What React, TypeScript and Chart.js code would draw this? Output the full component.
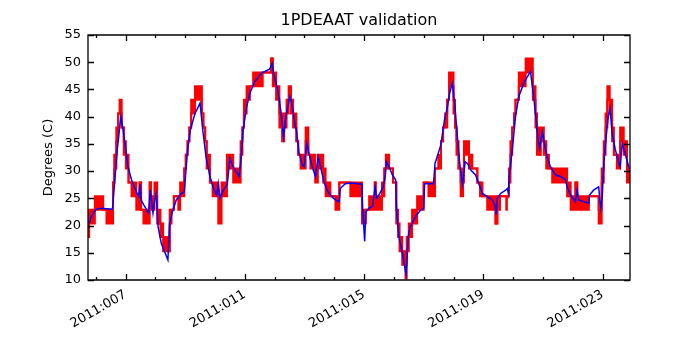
import React, { useEffect, useRef } from 'react';
import { Chart, registerables } from 'chart.js';

Chart.register(...registerables);

const chartTitle = '1PDEAAT validation';
const yAxisLabel = 'Degrees (C)';
const xMin = 5.74;
const xMax = 23.92;
const yMin = 10;
const yMax = 55;
const yTicks = [10, 15, 20, 25, 30, 35, 40, 45, 50, 55];
const majorDays = [7, 11, 15, 19, 23];
const majorLabels = ['2011:007', '2011:011', '2011:015', '2011:019', '2011:023'];
const minorDays = [6, 7, 8, 9, 10, 11, 12, 13, 14, 15, 16, 17, 18, 19, 20, 21, 22, 23];

// Telemetry (red): quantized, shown as low/high envelope of flickering values
const redDays = [
  5.74, 5.78, 5.97, 6.25, 6.36, 6.58, 6.62, 6.69, 6.75, 6.80, 6.87, 6.94, 7.01, 7.10, 7.20, 7.36, 7.47, 7.52, 7.60, 7.81,
  7.85, 7.97, 8.06, 8.17, 8.26, 8.42, 8.48, 8.54, 8.62, 8.77, 8.83, 8.97, 9.02, 9.08, 9.14, 9.20, 9.33, 9.56, 9.61, 9.67,
  9.72, 9.83, 9.92, 10.11, 10.22, 10.40, 10.61, 10.86, 10.92, 10.97, 11.06, 11.17, 11.28, 11.60, 11.88, 11.94, 12.05, 12.16, 12.25, 12.32,
  12.40, 12.47, 12.55, 12.62, 12.73, 12.79, 12.87, 13.04, 13.13, 13.20, 13.36, 13.45, 13.63, 13.71, 13.87, 14.04, 14.17, 14.54, 14.93, 15.06,
  15.17, 15.36, 15.39, 15.60, 15.68, 15.73, 15.84, 15.97, 16.08, 16.14, 16.19, 16.28, 16.39, 16.43, 16.50, 16.61, 16.78, 17.00, 17.16, 17.38,
  17.49, 17.58, 17.65, 17.72, 17.79, 17.85, 18.00, 18.05, 18.10, 18.17, 18.24, 18.32, 18.35, 18.52, 18.63, 18.80, 18.89, 18.97, 19.13, 19.41,
  19.47, 19.54, 19.56, 19.77, 19.79, 19.86, 19.91, 19.97, 20.03, 20.08, 20.19, 20.42, 20.66, 20.75, 20.80, 20.89, 20.92, 21.03, 21.11, 21.20,
  21.31, 21.81, 21.93, 22.09, 22.15, 22.54, 22.87, 22.97, 23.04, 23.10, 23.16, 23.24, 23.32, 23.38, 23.48, 23.59, 23.71, 23.82, 23.95,
];
const redLow = [
  17.9, 20.4, 22.9, 22.9, 20.4, 27.9, 30.5, 35.5, 40.6, 40.6, 38.0, 33.0, 30.5, 27.9, 25.4, 22.9, 27.9, 22.9, 20.4, 27.9,
  22.9, 25.4, 20.4, 17.9, 15.3, 15.3, 20.4, 22.9, 25.4, 22.9, 25.4, 30.5, 33.0, 35.5, 38.0, 40.6, 43.1, 40.6, 38.0, 35.5,
  30.5, 27.9, 25.4, 20.4, 25.4, 30.5, 27.9, 33.0, 38.0, 40.6, 43.1, 45.6, 45.6, 48.1, 50.7, 45.6, 43.1, 38.0, 35.5, 38.0,
  40.6, 43.1, 40.6, 38.0, 35.5, 33.0, 30.5, 35.5, 33.0, 30.5, 27.9, 30.5, 27.9, 25.4, 25.4, 22.9, 27.9, 25.4, 20.4, 22.9,
  22.9, 27.9, 22.9, 25.4, 30.5, 30.5, 30.5, 27.9, 20.4, 17.9, 15.3, 12.8, 10.3, 15.3, 17.9, 20.4, 22.9, 27.9, 25.4, 30.5,
  30.5, 35.5, 38.0, 38.0, 43.1, 45.6, 40.6, 38.0, 33.0, 30.5, 25.4, 27.9, 33.0, 30.5, 30.5, 27.9, 25.4, 25.4, 22.9, 20.4,
  25.4, 22.9, 25.4, 22.9, 25.4, 27.9, 33.0, 38.0, 40.6, 43.1, 45.6, 48.1, 43.1, 38.0, 33.0, 33.0, 35.5, 33.0, 30.5, 30.5,
  27.9, 25.4, 22.9, 27.9, 22.9, 25.4, 20.4, 27.9, 33.0, 38.0, 43.1, 40.6, 35.5, 33.0, 30.5, 35.5, 33.0, 27.9, 27.9,
];
const redHigh = [
  22.9, 22.9, 25.4, 22.9, 22.9, 27.9, 33.0, 38.0, 40.6, 43.1, 38.0, 35.5, 33.0, 27.9, 27.9, 25.4, 27.9, 22.9, 22.9, 27.9,
  25.4, 27.9, 22.9, 20.4, 17.9, 15.3, 22.9, 22.9, 25.4, 25.4, 27.9, 30.5, 33.0, 35.5, 38.0, 43.1, 45.6, 40.6, 38.0, 35.5,
  33.0, 27.9, 27.9, 25.4, 27.9, 33.0, 30.5, 35.5, 38.0, 43.1, 45.6, 45.6, 48.1, 48.1, 50.7, 48.1, 45.6, 40.6, 38.0, 40.6,
  43.1, 45.6, 43.1, 40.6, 35.5, 33.0, 33.0, 38.0, 33.0, 33.0, 30.5, 33.0, 30.5, 27.9, 25.4, 25.4, 27.9, 27.9, 22.9, 22.9,
  25.4, 27.9, 25.4, 27.9, 30.5, 33.0, 30.5, 27.9, 22.9, 20.4, 17.9, 15.3, 12.8, 17.9, 20.4, 22.9, 25.4, 27.9, 27.9, 30.5,
  33.0, 35.5, 38.0, 40.6, 43.1, 48.1, 43.1, 38.0, 35.5, 30.5, 27.9, 30.5, 35.5, 33.0, 30.5, 27.9, 27.9, 25.4, 25.4, 20.4,
  25.4, 25.4, 25.4, 25.4, 25.4, 30.5, 35.5, 38.0, 40.6, 43.1, 48.1, 50.7, 45.6, 40.6, 38.0, 33.0, 38.0, 35.5, 33.0, 30.5,
  30.5, 27.9, 25.4, 27.9, 25.4, 25.4, 22.9, 30.5, 35.5, 40.6, 45.6, 43.1, 38.0, 33.0, 33.0, 38.0, 35.5, 30.5, 30.5,
];

// Model (blue)
const blueDays = [
  5.78, 5.85, 5.91, 6.02, 6.19, 6.56, 6.64, 6.72, 6.84, 6.92, 7.01, 7.08, 7.20, 7.36, 7.44, 7.49, 7.52, 7.64, 7.77, 7.83,
  7.92, 7.98, 8.03, 8.09, 8.20, 8.31, 8.42, 8.48, 8.57, 8.70, 8.87, 8.97, 9.00, 9.08, 9.17, 9.33, 9.50, 9.59, 9.70, 9.83,
  9.97, 10.06, 10.11, 10.17, 10.28, 10.41, 10.50, 10.56, 10.70, 10.81, 10.89, 10.94, 11.06, 11.17, 11.33, 11.56, 11.83, 11.92, 11.96, 12.10,
  12.22, 12.30, 12.38, 12.51, 12.58, 12.69, 12.73, 12.82, 12.93, 12.99, 13.08, 13.15, 13.26, 13.37, 13.46, 13.54, 13.65, 13.76, 13.87, 13.98,
  14.13, 14.17, 14.20, 14.37, 14.59, 14.93, 14.95, 15.02, 15.06, 15.17, 15.28, 15.37, 15.42, 15.53, 15.64, 15.71, 15.75, 15.84, 15.95, 16.06,
  16.09, 16.17, 16.28, 16.41, 16.48, 16.55, 16.72, 16.89, 17.00, 17.03, 17.33, 17.38, 17.49, 17.58, 17.62, 17.70, 17.79, 17.87, 17.96, 18.05,
  18.13, 18.21, 18.30, 18.39, 18.47, 18.58, 18.74, 18.85, 18.97, 19.13, 19.30, 19.39, 19.43, 19.47, 19.58, 19.75, 19.81, 19.84, 19.87, 19.97,
  20.08, 20.19, 20.36, 20.58, 20.69, 20.75, 20.84, 20.89, 20.98, 21.06, 21.14, 21.25, 21.42, 21.59, 21.76, 21.81, 21.93, 22.09, 22.15, 22.20,
  22.37, 22.54, 22.56, 22.70, 22.87, 22.91, 22.94, 22.99, 23.04, 23.12, 23.19, 23.25, 23.32, 23.43, 23.54, 23.59, 23.66, 23.77, 23.88, 23.93,
];
const blueTemps = [
  20.4, 21.6, 22.2, 23.0, 23.2, 23.0, 28.4, 33.9, 40.0, 37.5, 33.9, 30.8, 28.4, 26.2, 25.3, 27.6, 24.7, 23.5, 22.3, 26.5,
  22.3, 24.7, 25.9, 19.8, 16.7, 15.2, 13.7, 20.4, 22.5, 24.7, 25.9, 26.2, 28.4, 33.9, 37.5, 40.6, 42.5, 37.5, 32.6, 29.0,
  26.5, 25.6, 27.7, 25.1, 26.5, 27.5, 32.3, 31.4, 29.9, 29.0, 33.3, 37.5, 41.8, 44.3, 46.4, 48.0, 48.7, 49.8, 48.0, 45.0,
  40.6, 36.3, 40.0, 43.7, 42.5, 38.2, 37.5, 33.3, 31.1, 30.8, 35.1, 33.3, 30.8, 29.0, 32.6, 30.8, 28.1, 26.5, 25.6, 25.0,
  24.4, 24.4, 26.8, 27.7, 27.8, 27.6, 23.5, 17.1, 22.5, 23.2, 23.5, 27.1, 25.0, 25.9, 27.1, 29.0, 31.7, 30.8, 29.3, 28.4,
  22.8, 18.0, 15.0, 11.0, 18.0, 19.8, 21.6, 22.8, 23.2, 27.7, 27.7, 31.4, 33.3, 34.9, 36.5, 39.5, 41.6, 44.3, 46.2, 41.8,
  36.3, 31.4, 27.5, 31.7, 31.4, 30.2, 29.3, 27.7, 25.9, 25.3, 24.7, 23.8, 22.0, 25.0, 25.9, 26.5, 26.8, 25.9, 29.0, 33.9,
  40.0, 43.7, 46.2, 48.3, 43.7, 40.5, 35.7, 34.2, 37.2, 34.8, 32.6, 30.8, 29.3, 29.0, 28.4, 27.1, 25.6, 24.4, 26.5, 24.7,
  24.4, 24.1, 25.6, 26.5, 27.1, 24.7, 23.2, 25.3, 31.4, 36.3, 40.0, 41.5, 36.9, 33.9, 31.7, 30.8, 35.1, 32.9, 30.8, 30.2,
];

const FONT = "'DejaVu Sans', sans-serif";

const framePlugin = {
  id: 'mplFrame',
  afterDatasetsDraw(chart: any) {
    const { ctx, chartArea: a, scales } = chart;
    const xs = scales.x;
    const ys = scales.y;
    const L = Math.round(a.left);
    const R = Math.round(a.right);
    const T = Math.round(a.top);
    const B = Math.round(a.bottom);
    ctx.save();
    ctx.strokeStyle = '#000';
    ctx.lineWidth = 1.3;
    ctx.beginPath();
    ctx.rect(L, T, R - L, B - T);
    yTicks.forEach((v) => {
      const p = Math.round(ys.getPixelForValue(v)) + 0.5;
      ctx.moveTo(L, p);
      ctx.lineTo(L + 6, p);
      ctx.moveTo(R, p);
      ctx.lineTo(R - 6, p);
    });
    minorDays.forEach((d) => {
      const len = majorDays.includes(d) ? 6 : 3;
      const p = Math.round(xs.getPixelForValue(d)) + 0.5;
      ctx.moveTo(p, B);
      ctx.lineTo(p, B - len);
      ctx.moveTo(p, T);
      ctx.lineTo(p, T + len);
    });
    ctx.stroke();
    ctx.restore();
  },
};

export default function App() {
  const ref = useRef<HTMLCanvasElement | null>(null);

  useEffect(() => {
    if (!ref.current) return;
    const chart = new Chart(ref.current, {
      type: 'line',
      data: {
        datasets: [
          {
            label: 'model',
            data: blueDays.map((x, i) => ({ x, y: blueTemps[i] })),
            borderColor: '#0000ff',
            borderWidth: 1.5,
            pointRadius: 0,
            fill: false,
            tension: 0,
          },
          {
            label: 'telemetry low',
            data: redDays.map((x, i) => ({ x, y: redLow[i] })),
            borderColor: '#ff0000',
            borderWidth: 2,
            pointRadius: 0,
            stepped: true,
            fill: false,
          },
          {
            label: 'telemetry high',
            data: redDays.map((x, i) => ({ x, y: redHigh[i] })),
            borderColor: '#ff0000',
            backgroundColor: '#ff0000',
            borderWidth: 2,
            pointRadius: 0,
            stepped: true,
            fill: '-1',
          },
        ],
      } as any,
      options: {
        animation: false,
        responsive: false,
        events: [],
        layout: { padding: { left: 0, right: 70, top: 0, bottom: 0 } },
        plugins: {
          legend: { display: false },
          tooltip: { enabled: false },
          title: {
            display: true,
            text: chartTitle,
            color: '#000',
            fullSize: false,
            font: { family: FONT, size: 16, weight: 'normal', lineHeight: 1 },
            padding: { top: 13, bottom: 6 },
          },
        },
        scales: {
          x: {
            type: 'linear',
            min: xMin,
            max: xMax,
            grid: { display: false, drawTicks: false },
            border: { display: false },
            afterBuildTicks: (s: any) => {
              s.ticks = majorDays.map((v) => ({ value: v }));
            },
            afterFit: (s: any) => {
              s.height = 70;
            },
            ticks: {
              autoSkip: false,
              maxRotation: 30,
              minRotation: 30,
              padding: 7,
              color: '#000',
              font: { family: FONT, size: 13 },
              callback: (v: any) => {
                const i = majorDays.indexOf(Number(v));
                return i >= 0 ? majorLabels[i] : '';
              },
            },
          },
          y: {
            type: 'linear',
            min: yMin,
            max: yMax,
            grid: { display: false, drawTicks: false },
            border: { display: false },
            afterBuildTicks: (s: any) => {
              s.ticks = yTicks.map((v) => ({ value: v }));
            },
            afterFit: (s: any) => {
              s.width = 88;
            },
            ticks: {
              padding: 7,
              color: '#000',
              font: { family: FONT, size: 13 },
            },
            title: {
              display: true,
              text: yAxisLabel,
              color: '#000',
              font: { family: FONT, size: 13 },
              padding: { top: 41, bottom: 0 },
            },
          },
        },
      } as any,
      plugins: [framePlugin],
    });
    return () => chart.destroy();
  }, []);

  return (
    <div style={{ position: 'absolute', left: 0, top: 0, width: 700, height: 350, background: '#fff' }}>
      <canvas ref={ref} width={700} height={350} style={{ width: 700, height: 350, display: 'block' }} />
    </div>
  );
}
